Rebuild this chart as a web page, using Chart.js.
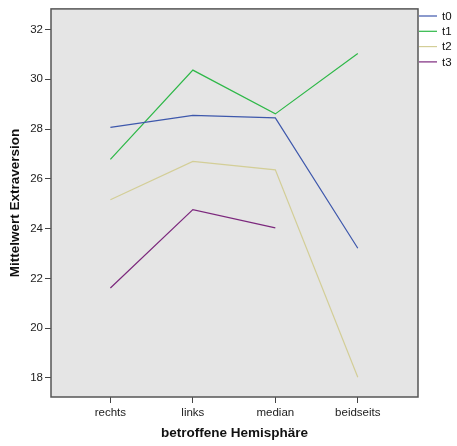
<!DOCTYPE html>
<html>
<head>
<meta charset="utf-8">
<script src="https://cdn.jsdelivr.net/npm/chart.js@4.4.1/dist/chart.umd.min.js"></script>
<style>
  html, body { margin: 0; padding: 0; background: #ffffff; }
  #wrap { width: 457px; height: 446px; position: relative; }
</style>
</head>
<body>
<div id="wrap"><canvas id="c" width="457" height="446"></canvas></div>
<script>
// Mean extraversion by affected hemisphere, four measurement times
const categories = ['rechts', 'links', 'median', 'beidseits'];
const seriesNames = ['t0', 't1', 't2', 't3'];
const t0 = [28.07, 28.55, 28.45, 23.21];
const t1 = [26.78, 30.37, 28.61, 31.04];
const t2 = [25.16, 26.70, 26.36, 18.02];
const t3 = [21.61, 24.76, 24.03, null];
const yTicks = [18, 20, 22, 24, 26, 28, 30, 32];
const colors = ['#3E58AC', '#2EB848', '#D3CE97', '#7C287D'];

const FONT = "'Liberation Sans', Arial, sans-serif";
const allSeries = [t0, t1, t2, t3];

const datasets = allSeries.map((vals, k) => ({
  label: seriesNames[k],
  data: vals.map((v, i) => ({ x: i, y: v })),
  borderColor: colors[k],
  backgroundColor: colors[k],
  borderWidth: 1.2,
  pointRadius: 0,
  tension: 0,
  spanGaps: false
}));

// grey plot panel with a full frame around it
const panel = {
  id: 'panel',
  beforeDatasetsDraw(chart) {
    const { ctx, chartArea: a } = chart;
    ctx.save();
    ctx.fillStyle = '#E5E5E5';
    ctx.fillRect(a.left, a.top, a.right - a.left, a.bottom - a.top);
    ctx.restore();
  },
  afterDatasetsDraw(chart) {
    const { ctx, chartArea: a } = chart;
    ctx.save();
    ctx.strokeStyle = '#555555';
    ctx.lineWidth = 1.5;
    ctx.strokeRect(a.left, a.top, a.right - a.left, a.bottom - a.top);
    ctx.restore();
  }
};

// legend drawn as short line samples beside the panel
const sideLegend = {
  id: 'sideLegend',
  afterDraw(chart) {
    const { ctx, chartArea: a } = chart;
    ctx.save();
    ctx.font = '11.5px ' + FONT;
    ctx.textBaseline = 'middle';
    ctx.textAlign = 'left';
    chart.data.datasets.forEach((ds, k) => {
      const y = 16 + k * 15.3;
      ctx.strokeStyle = ds.borderColor;
      ctx.lineWidth = 1.2;
      ctx.beginPath();
      ctx.moveTo(a.right + 1, y);
      ctx.lineTo(a.right + 19, y);
      ctx.stroke();
      ctx.fillStyle = '#111111';
      ctx.fillText(ds.label, a.right + 24, y + 0.5);
    });
    ctx.restore();
  }
};

new Chart(document.getElementById('c'), {
  type: 'line',
  data: { datasets },
  plugins: [panel, sideLegend],
  options: {
    responsive: false,
    animation: false,
    devicePixelRatio: 1,
    layout: { padding: { top: 8, right: 39, left: 0, bottom: 0 } },
    plugins: { legend: { display: false }, tooltip: { enabled: false } },
    scales: {
      x: {
        type: 'linear',
        min: -0.72,
        max: 3.73,
        afterBuildTicks(scale) { scale.ticks = categories.map((c, i) => ({ value: i })); },
        afterFit(scale) { scale.height = 49; },
        ticks: {
          callback: (v) => categories[v],
          font: { family: FONT, size: 11.5 },
          color: '#222222',
          padding: 3,
          maxRotation: 0,
          autoSkip: false
        },
        grid: { drawOnChartArea: false, drawTicks: true, tickLength: 6, color: '#444444', lineWidth: 1 },
        border: { display: false },
        title: {
          display: true,
          text: 'betroffene Hemisphäre',
          font: { family: FONT, size: 13.5, weight: 'bold' },
          color: '#111111',
          padding: { top: 0, bottom: 5 }
        }
      },
      y: {
        type: 'linear',
        min: 17.23,
        max: 32.83,
        afterBuildTicks(scale) { scale.ticks = yTicks.map(v => ({ value: v })); },
        afterFit(scale) { scale.width = 51; },
        ticks: {
          font: { family: FONT, size: 11.5 },
          color: '#222222',
          padding: 2
        },
        grid: { drawOnChartArea: false, drawTicks: true, tickLength: 6, color: '#444444', lineWidth: 1 },
        border: { display: false },
        title: {
          display: true,
          text: 'Mittelwert Extraversion',
          font: { family: FONT, size: 13.5, weight: 'bold' },
          color: '#111111',
          padding: { top: 7, bottom: 0 }
        }
      }
    }
  }
});
</script>
</body>
</html>
